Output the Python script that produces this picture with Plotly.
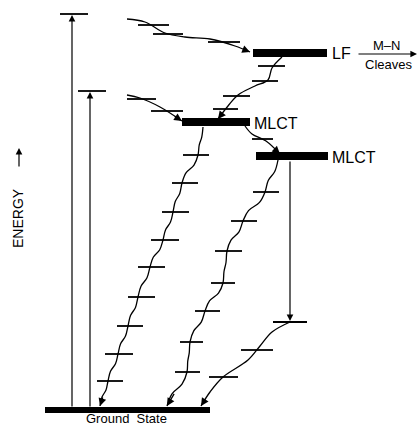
import plotly.graph_objects as go

# ---- data (diagram coordinates, y grows downward = lower energy) ----
# thick electronic levels: name, x_start, x_end, y
level_names = ["Ground", "LF", "MLCT1", "MLCT2"]
level_x0 = [45, 253, 182, 256]
level_x1 = [210, 327, 250, 328]
level_y = [410, 53, 122, 156]

# thin vibrational levels (x0, x1, y)
tick_x0 = [60, 78, 138, 153, 208, 127, 151, 258, 252, 223, 213, 252,
           183, 172, 162, 151, 138, 128, 117, 105, 97,
           253, 231, 215, 211, 195, 180, 175,
           273, 241, 209]
tick_x1 = [88, 106, 169, 183, 240, 156, 183, 285, 278, 250, 238, 273,
           209, 198, 189, 179, 165, 155, 143, 133, 123,
           279, 257, 242, 235, 220, 203, 200,
           307, 273, 238]
tick_y = [14, 91, 25, 34, 42, 99, 111, 66, 81, 96, 109, 139,
          155, 183, 212, 240, 267, 297, 326, 354, 381,
          192, 221, 251, 283, 311, 342, 372,
          322, 350, 377]

# wavy (radiationless) paths, given by points
wave_top_x = [127, 145, 165, 185, 210, 235, 250]
wave_top_y = [19, 22, 33, 37, 39, 46, 52]
wave_mid_x = [127, 140, 160, 182]
wave_mid_y = [95, 98, 107, 121]
wave_lf_x = [282, 272, 268, 255, 238, 228, 218]
wave_lf_y = [57, 68, 80, 86, 95, 106, 119]
wave_m12_x = [245, 252, 266, 280]
wave_m12_y = [126, 134, 141, 154]
wave_g1_x = [203, 198, 182, 173, 163, 150, 138, 128, 118, 108, 100]
wave_g1_y = [127, 155, 183, 212, 240, 267, 297, 326, 354, 381, 406]
wave_g2_x = [278, 265, 243, 227, 223, 205, 190, 187, 167]
wave_g2_y = [160, 192, 221, 251, 283, 311, 342, 372, 406]
wave_g3_x = [290, 272, 260, 248, 223, 210, 201]
wave_g3_y = [322, 332, 346, 360, 377, 392, 406]

# straight arrows: (x_start, y_start, x_end, y_end)
arrows = [
    (72, 408, 72, 15), (90, 408, 90, 92), (290, 160, 290, 321),
    (357, 54, 417, 54), (19, 168, 19, 148),
]

labels = ["LF", "MLCT", "MLCT", "M\u2013N", "Cleaves", "Ground  State"]
label_x = [331, 253, 331, 386, 388, 126]
label_y = [53, 123, 157, 45, 64, 427]
label_anchor = ["left", "left", "left", "center", "center", "center"]
label_vanchor = ["middle", "middle", "middle", "middle", "middle", "bottom"]
label_size = [16, 16, 16, 13, 13, 13]

FONT = "Liberation Sans, Arial, Helvetica, sans-serif"

fig = go.Figure()


def stair(xs, ys):
    """gentle S-shaped wiggle between successive crossing points"""
    px, py = [xs[0]], [ys[0]]
    for i in range(len(xs) - 1):
        dx = xs[i + 1] - xs[i]
        dy = ys[i + 1] - ys[i]
        px += [xs[i] + 0.25 * dx, xs[i + 1] - 0.25 * dx, xs[i + 1]]
        py += [ys[i] + 0.36 * dy, ys[i + 1] - 0.36 * dy, ys[i + 1]]
    return px, py


for xs, ys, vert in [(wave_top_x, wave_top_y, False), (wave_mid_x, wave_mid_y, False),
                     (wave_lf_x, wave_lf_y, False), (wave_m12_x, wave_m12_y, False),
                     (wave_g1_x, wave_g1_y, True), (wave_g2_x, wave_g2_y, True),
                     (wave_g3_x, wave_g3_y, False)]:
    px, py = stair(xs, ys) if vert else (xs, ys)
    fig.add_trace(go.Scatter(x=px, y=py, mode="lines",
                             line=dict(color="black", width=1.3, shape="spline", smoothing=1.0),
                             hoverinfo="skip"))

# vibrational ticks
for x0, x1, y in zip(tick_x0, tick_x1, tick_y):
    fig.add_trace(go.Scatter(x=[x0, x1], y=[y, y], mode="lines",
                             line=dict(color="black", width=1.8), hoverinfo="skip"))

# thick electronic levels
for name, x0, x1, y in zip(level_names, level_x0, level_x1, level_y):
    fig.add_trace(go.Scatter(x=[x0, x1], y=[y, y], mode="lines",
                             line=dict(color="black", width=6 if name == "Ground" else 8),
                             hoverinfo="skip"))

ann = []
for xs_, ys_, xe, ye in arrows:
    ann.append(dict(x=xe, y=ye, ax=xs_, ay=ys_, xref="x", yref="y", axref="x", ayref="y",
                    showarrow=True, arrowhead=2, arrowsize=1.1, arrowwidth=1.2,
                    arrowcolor="black", text=""))

# arrowheads on the ends of wavy paths
for xs, ys in [(wave_top_x, wave_top_y), (wave_mid_x, wave_mid_y), (wave_lf_x, wave_lf_y),
               (wave_m12_x, wave_m12_y), (wave_g1_x, wave_g1_y), (wave_g2_x, wave_g2_y),
               (wave_g3_x, wave_g3_y)]:
    xe, ye = xs[-1], ys[-1]
    xp, yp = xs[-2], ys[-2]
    f = 0.4
    ann.append(dict(x=xe, y=ye, ax=xe - (xe - xp) * f, ay=ye - (ye - yp) * f,
                    xref="x", yref="y", axref="x", ayref="y",
                    showarrow=True, arrowhead=2, arrowsize=1.2, arrowwidth=1.3,
                    arrowcolor="black", text=""))

for t, x, y, a, va, s in zip(labels, label_x, label_y, label_anchor, label_vanchor, label_size):
    ann.append(dict(x=x, y=y, xref="x", yref="y", text=t, showarrow=False,
                    xanchor=a, yanchor=va, borderpad=0,
                    font=dict(family=FONT, size=s, color="black")))

ann.append(dict(x=18, y=218, xref="x", yref="y", text="ENERGY", showarrow=False,
                textangle=-90, xanchor="center", yanchor="middle",
                font=dict(family=FONT, size=14, color="black")))

fig.update_layout(
    width=418, height=427, margin=dict(l=0, r=0, t=0, b=0),
    paper_bgcolor="white", plot_bgcolor="white", showlegend=False,
    xaxis=dict(range=[0, 418], visible=False, fixedrange=True),
    yaxis=dict(range=[427, 0], visible=False, fixedrange=True),
    annotations=ann,
)

fig.write_html("out.html", config={"displayModeBar": False},
               post_script="document.body.style.margin='0';document.body.style.overflow='hidden';")
